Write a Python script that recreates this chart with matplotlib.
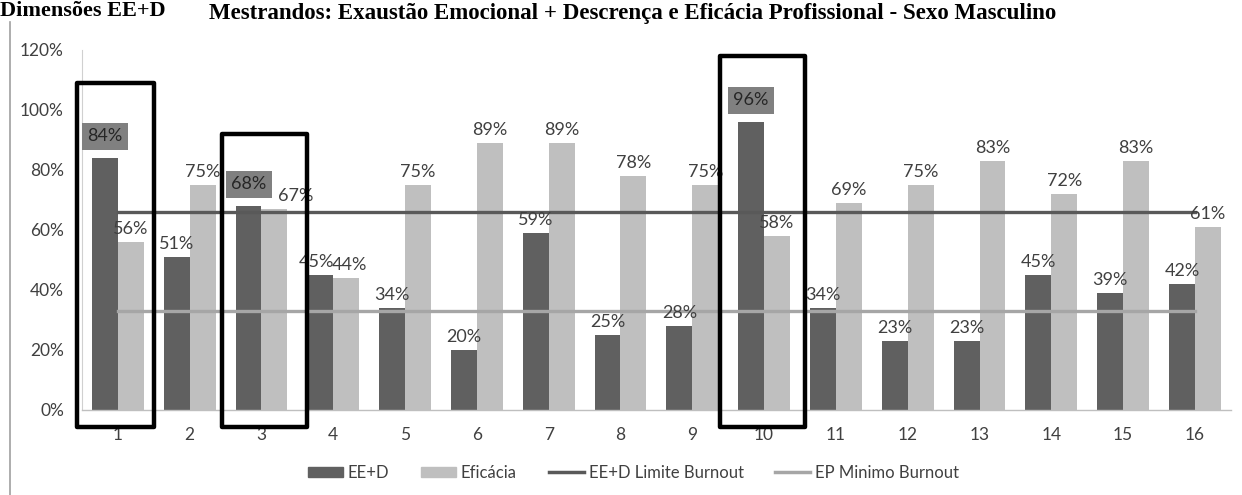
import matplotlib.pyplot as plt
from matplotlib.patches import Rectangle
from matplotlib.lines import Line2D
import matplotlib.ticker as mtick

categories = [str(i) for i in range(1, 17)]
ee_d = [84, 51, 68, 45, 34, 20, 59, 25, 28, 96, 34, 23, 23, 45, 39, 42]
eficacia = [56, 75, 67, 44, 75, 89, 89, 78, 75, 58, 69, 75, 83, 72, 83, 61]
limite_ee_d = [66] * 16
minimo_ep = [33] * 16
highlighted = ["1", "3", "10"]

plt.rcParams['font.family'] = ['Lato', 'DejaVu Sans']

fig = plt.figure(figsize=(12.42, 4.95), dpi=100)
ax = fig.add_axes([0.066, 0.172, 0.925, 0.727])

x = list(range(1, 17))
w = 0.36
dark = '#606060'
light = '#bfbfbf'
xd = [i - w / 2 for i in x]
xl = [i + w / 2 for i in x]
ax.bar(xd, [v / 100 for v in ee_d], width=w, color=dark, label='EE+D', zorder=2)
ax.bar(xl, [v / 100 for v in eficacia], width=w, color=light, label='Eficácia', zorder=2)
ax.plot(x, [v / 100 for v in limite_ee_d], color='#595959', lw=2.4, label='EE+D Limite Burnout', zorder=3)
ax.plot(x, [v / 100 for v in minimo_ep], color='#a6a6a6', lw=2.4, label='EP Minimo Burnout', zorder=3)

# small label shifts (in category units) where labels would collide
dark_shift = {"4": -0.06}
light_shift = {"3": 0.3, "4": 0.05}

for c, xi, v in zip(categories, xd, ee_d):
    xs = xi + dark_shift.get(c, 0)
    if c in highlighted:
        ax.text(xs, v / 100 + 0.045, f'{v}%', ha='center', va='bottom', fontsize=13, color='#262626',
                bbox=dict(boxstyle='square,pad=0.3', fc='#808080', ec='none'), zorder=5)
    else:
        ax.text(xs, v / 100 + 0.015, f'{v}%', ha='center', va='bottom', fontsize=13, color='#404040', zorder=5)
for c, xi, v in zip(categories, xl, eficacia):
    xs = xi + light_shift.get(c, 0)
    ax.text(xs, v / 100 + 0.015, f'{v}%', ha='center', va='bottom', fontsize=13, color='#404040', zorder=5)

# highlight boxes
boxes = {"1": (0.43, 1.50, 1.09), "3": (2.45, 3.63, 0.92), "10": (9.39, 10.57, 1.18)}
for c in highlighted:
    x0, x1, top = boxes[c]
    r = Rectangle((x0, -0.057), x1 - x0, top + 0.057, fill=False, ec='black', lw=3.2,
                  joinstyle='round', clip_on=False, zorder=6)
    ax.add_patch(r)

ax.set_xlim(0.5, 16.5)
ax.set_ylim(0, 1.2)
ax.set_xticks(x)
ax.set_xticklabels(categories)
ax.set_yticks([0, 0.2, 0.4, 0.6, 0.8, 1.0, 1.2])
ax.yaxis.set_major_formatter(mtick.PercentFormatter(1.0, decimals=0))
ax.tick_params(axis='both', length=0, labelsize=12.5, labelcolor='#404040')
ax.tick_params(axis='x', pad=12)
ax.tick_params(axis='y', pad=13)
for s in ['top', 'right']:
    ax.spines[s].set_visible(False)
ax.spines['left'].set_color('#d0d0d0')
ax.spines['left'].set_linewidth(0.8)
ax.spines['bottom'].set_color('#bfbfbf')
ax.spines['bottom'].set_linewidth(1.0)

handles = [Rectangle((0, 0), 1, 1, color=dark), Rectangle((0, 0), 1, 1, color=light),
           Line2D([], [], color='#595959', lw=2.5), Line2D([], [], color='#a6a6a6', lw=2.5)]
labels = ['EE+D', 'Eficácia', 'EE+D Limite Burnout', 'EP Minimo Burnout']
fig.legend(handles, labels, loc='center', bbox_to_anchor=(0.51, 1 - 473 / 495), ncol=4, frameon=False,
           fontsize=12, handlelength=2.1, handleheight=0.6, columnspacing=1.9, handletextpad=0.3,
           labelcolor='#404040')

# titles at top
fig.text(0.0, 1.0 - 16 / 495, 'Dimensões EE+D', fontsize=16, fontweight='bold',
         family='Liberation Serif', ha='left', va='baseline')
fig.text(633 / 1242, 1.0 - 19 / 495,
         'Mestrandos: Exaustão Emocional + Descrença e Eficácia Profissional - Sexo Masculino',
         fontsize=16.5, fontweight='bold', family='Liberation Serif', ha='center', va='baseline')

# left frame line
fig.add_artist(Line2D([10 / 1242, 10 / 1242], [0, 1 - 22 / 495], transform=fig.transFigure,
                      color='#a0a0a0', lw=1.2))

fig.savefig('out.png', dpi=100)
